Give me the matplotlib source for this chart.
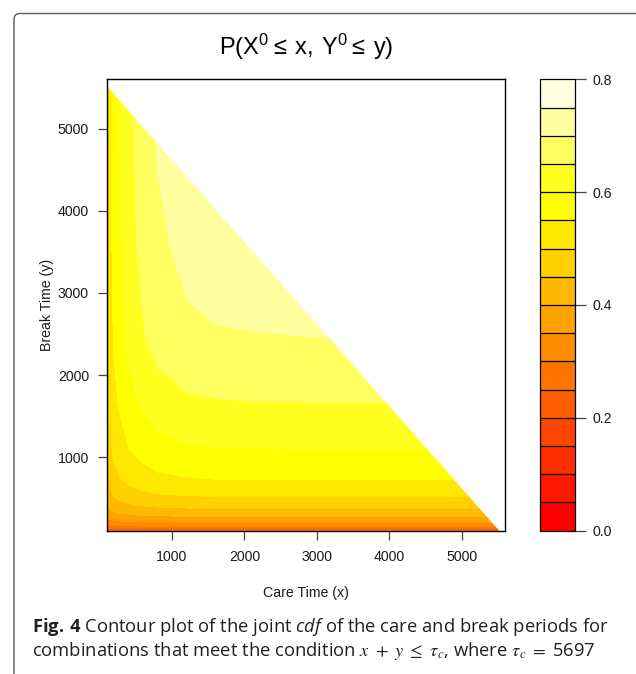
import colorsys

import matplotlib

matplotlib.use("Agg")
import matplotlib.pyplot as plt
import numpy as np
from matplotlib.patches import FancyBboxPatch, Polygon

# grid of care / break times and the joint cdf
care_x = [105, 131, 167, 200, 273, 350, 411, 550, 801, 963, 1215, 1600, 2000, 3000, 4000, 5600]
break_y = [105, 126, 158, 207, 277, 374, 518, 724, 1094, 1668, 2460, 3600, 5600]
cdf_joint = [
    [0.177, 0.178, 0.179, 0.179, 0.179, 0.179, 0.180, 0.180, 0.180, 0.180, 0.180, 0.180, 0.180, 0.180, 0.180, 0.180],
    [0.240, 0.243, 0.246, 0.246, 0.247, 0.248, 0.248, 0.249, 0.249, 0.250, 0.250, 0.250, 0.250, 0.250, 0.250, 0.250],
    [0.281, 0.286, 0.291, 0.293, 0.294, 0.295, 0.296, 0.298, 0.299, 0.299, 0.300, 0.300, 0.300, 0.300, 0.300, 0.300],
    [0.318, 0.326, 0.334, 0.337, 0.340, 0.342, 0.343, 0.345, 0.348, 0.348, 0.349, 0.350, 0.350, 0.350, 0.350, 0.350],
    [0.349, 0.362, 0.374, 0.378, 0.383, 0.386, 0.389, 0.392, 0.397, 0.397, 0.399, 0.400, 0.400, 0.400, 0.400, 0.400],
    [0.376, 0.393, 0.411, 0.416, 0.424, 0.428, 0.432, 0.438, 0.445, 0.446, 0.448, 0.449, 0.450, 0.450, 0.450, 0.450],
    [0.398, 0.420, 0.443, 0.451, 0.461, 0.468, 0.474, 0.482, 0.492, 0.494, 0.497, 0.499, 0.500, 0.500, 0.500, 0.500],
    [0.416, 0.443, 0.472, 0.483, 0.496, 0.505, 0.513, 0.524, 0.538, 0.541, 0.546, 0.549, 0.549, 0.550, 0.550, 0.550],
    [0.431, 0.462, 0.498, 0.510, 0.527, 0.539, 0.549, 0.565, 0.584, 0.587, 0.595, 0.598, 0.599, 0.600, 0.600, 0.600],
    [0.442, 0.478, 0.520, 0.535, 0.556, 0.570, 0.583, 0.603, 0.628, 0.632, 0.643, 0.647, 0.649, 0.650, 0.650, 0.650],
    [0.452, 0.492, 0.539, 0.556, 0.581, 0.599, 0.614, 0.639, 0.671, 0.676, 0.690, 0.696, 0.698, 0.700, 0.700, 0.700],
    [0.457, 0.498, 0.548, 0.567, 0.594, 0.613, 0.630, 0.658, 0.694, 0.700, 0.716, 0.724, 0.726, 0.728, 0.728, 0.728],
    [0.459, 0.502, 0.553, 0.573, 0.601, 0.622, 0.639, 0.669, 0.708, 0.715, 0.732, 0.740, 0.743, 0.745, 0.745, 0.745],
]
# combinations are only shown where x + y stays under this edge
edge_sum = 5620
levels = np.round(np.arange(0, 0.8001, 0.05), 2)
cbar_ticks = [0.0, 0.2, 0.4, 0.6, 0.8]
axis_ticks = [1000, 2000, 3000, 4000, 5000]


def heat_colors(n):
    """Same palette as R's heat.colors(n)."""
    j = n // 4
    i = n - j
    cols = [colorsys.hsv_to_rgb(h, 1, 1) for h in np.linspace(0, 1 / 6, i)]
    cols += [colorsys.hsv_to_rgb(1 / 6, s, 1) for s in np.linspace(1 - 1 / (2 * j), 1 / (2 * j), j)]
    return cols


plt.rcParams["font.family"] = ["Liberation Sans", "DejaVu Sans"]
plt.rcParams["mathtext.fontset"] = "custom"
plt.rcParams["mathtext.rm"] = "Open Sans"
plt.rcParams["mathtext.it"] = "Open Sans:italic"
plt.rcParams["mathtext.bf"] = "Open Sans:bold"

W, H = 636, 674
fig = plt.figure(figsize=(W / 100, H / 100), dpi=100)

ax = fig.add_axes([107 / W, 1 - 530.5 / H, 398 / W, 451.2 / H])
cax = fig.add_axes([540 / W, 1 - 530.5 / H, 35 / W, 451.2 / H])

cs = ax.contourf(care_x, break_y, np.array(cdf_joint), levels=levels, colors=heat_colors(len(levels) - 1))
x0, y0 = care_x[0], break_y[0]
tri = Polygon([(x0, y0), (x0, edge_sum - x0), (edge_sum - y0, y0)], closed=True,
              transform=ax.transData, facecolor="none", edgecolor="none")
ax.add_patch(tri)
cs.set_clip_path(tri)

ax.set_xlim(103, 5597)
ax.set_ylim(106, 5602)
ax.set_xticks(axis_ticks)
ax.set_yticks(axis_ticks)
ax.tick_params(direction="out", length=6.5, width=0.9, color="#444444", labelsize=10.2,
               labelcolor="#1a1a1a")
ax.tick_params(axis="x", pad=7.5)
ax.tick_params(axis="y", pad=6.5)
for sp in ax.spines.values():
    sp.set_linewidth(1.0)

cb = fig.colorbar(cs, cax=cax, drawedges=True, ticks=cbar_ticks)
cb.ax.set_yticklabels([f"{t:.1f}" for t in cbar_ticks])
cb.outline.set_linewidth(0.9)
cb.dividers.set_linewidth(0.9)
cb.dividers.set_color("black")
cax.tick_params(direction="out", length=8, width=0.9, color="#444444", labelsize=10.2,
                labelcolor="#1a1a1a", pad=4.3)

fig.text(306 / W, 1 - 55 / H, r"$\mathregular{P(X^0{\leq}\,x,\,Y^0{\leq}\,y)}$", ha="center",
         va="baseline", fontsize=17, math_fontfamily="dejavusans")
fig.text(46.7 / W, 1 - 305 / H, "Break Time (y)", rotation=90, ha="center", va="center",
         fontsize=10.2, color="#1a1a1a")
fig.text(306 / W, 1 - 593 / H, "Care Time (x)", ha="center", va="center", fontsize=10.2,
         color="#1a1a1a")

# caption
fig.text(32 / W, 1 - 632 / H,
         r"$\mathbf{Fig.\,4}$ Contour plot of the joint $\mathit{cdf}$ of the care and break periods for",
         family="Open Sans", fontsize=13.2, va="baseline", color="#231f20", math_fontfamily="custom")
fig.text(32 / W, 1 - 656 / H,
         r"combinations that meet the condition $x\ +\ y\ \leq\ \tau_c$, where $\tau_c\ =\ $5697",
         family="Open Sans", fontsize=13.2, va="baseline", color="#231f20", math_fontfamily="stix")

frame = FancyBboxPatch((0.14, -0.5), 6.31, 7.105, boxstyle="round,pad=0,rounding_size=0.06",
                       transform=fig.dpi_scale_trans, facecolor="none", edgecolor="#5a5a5a", lw=1.0)
fig.patches.append(frame)

fig.savefig("out.png", dpi=100)
